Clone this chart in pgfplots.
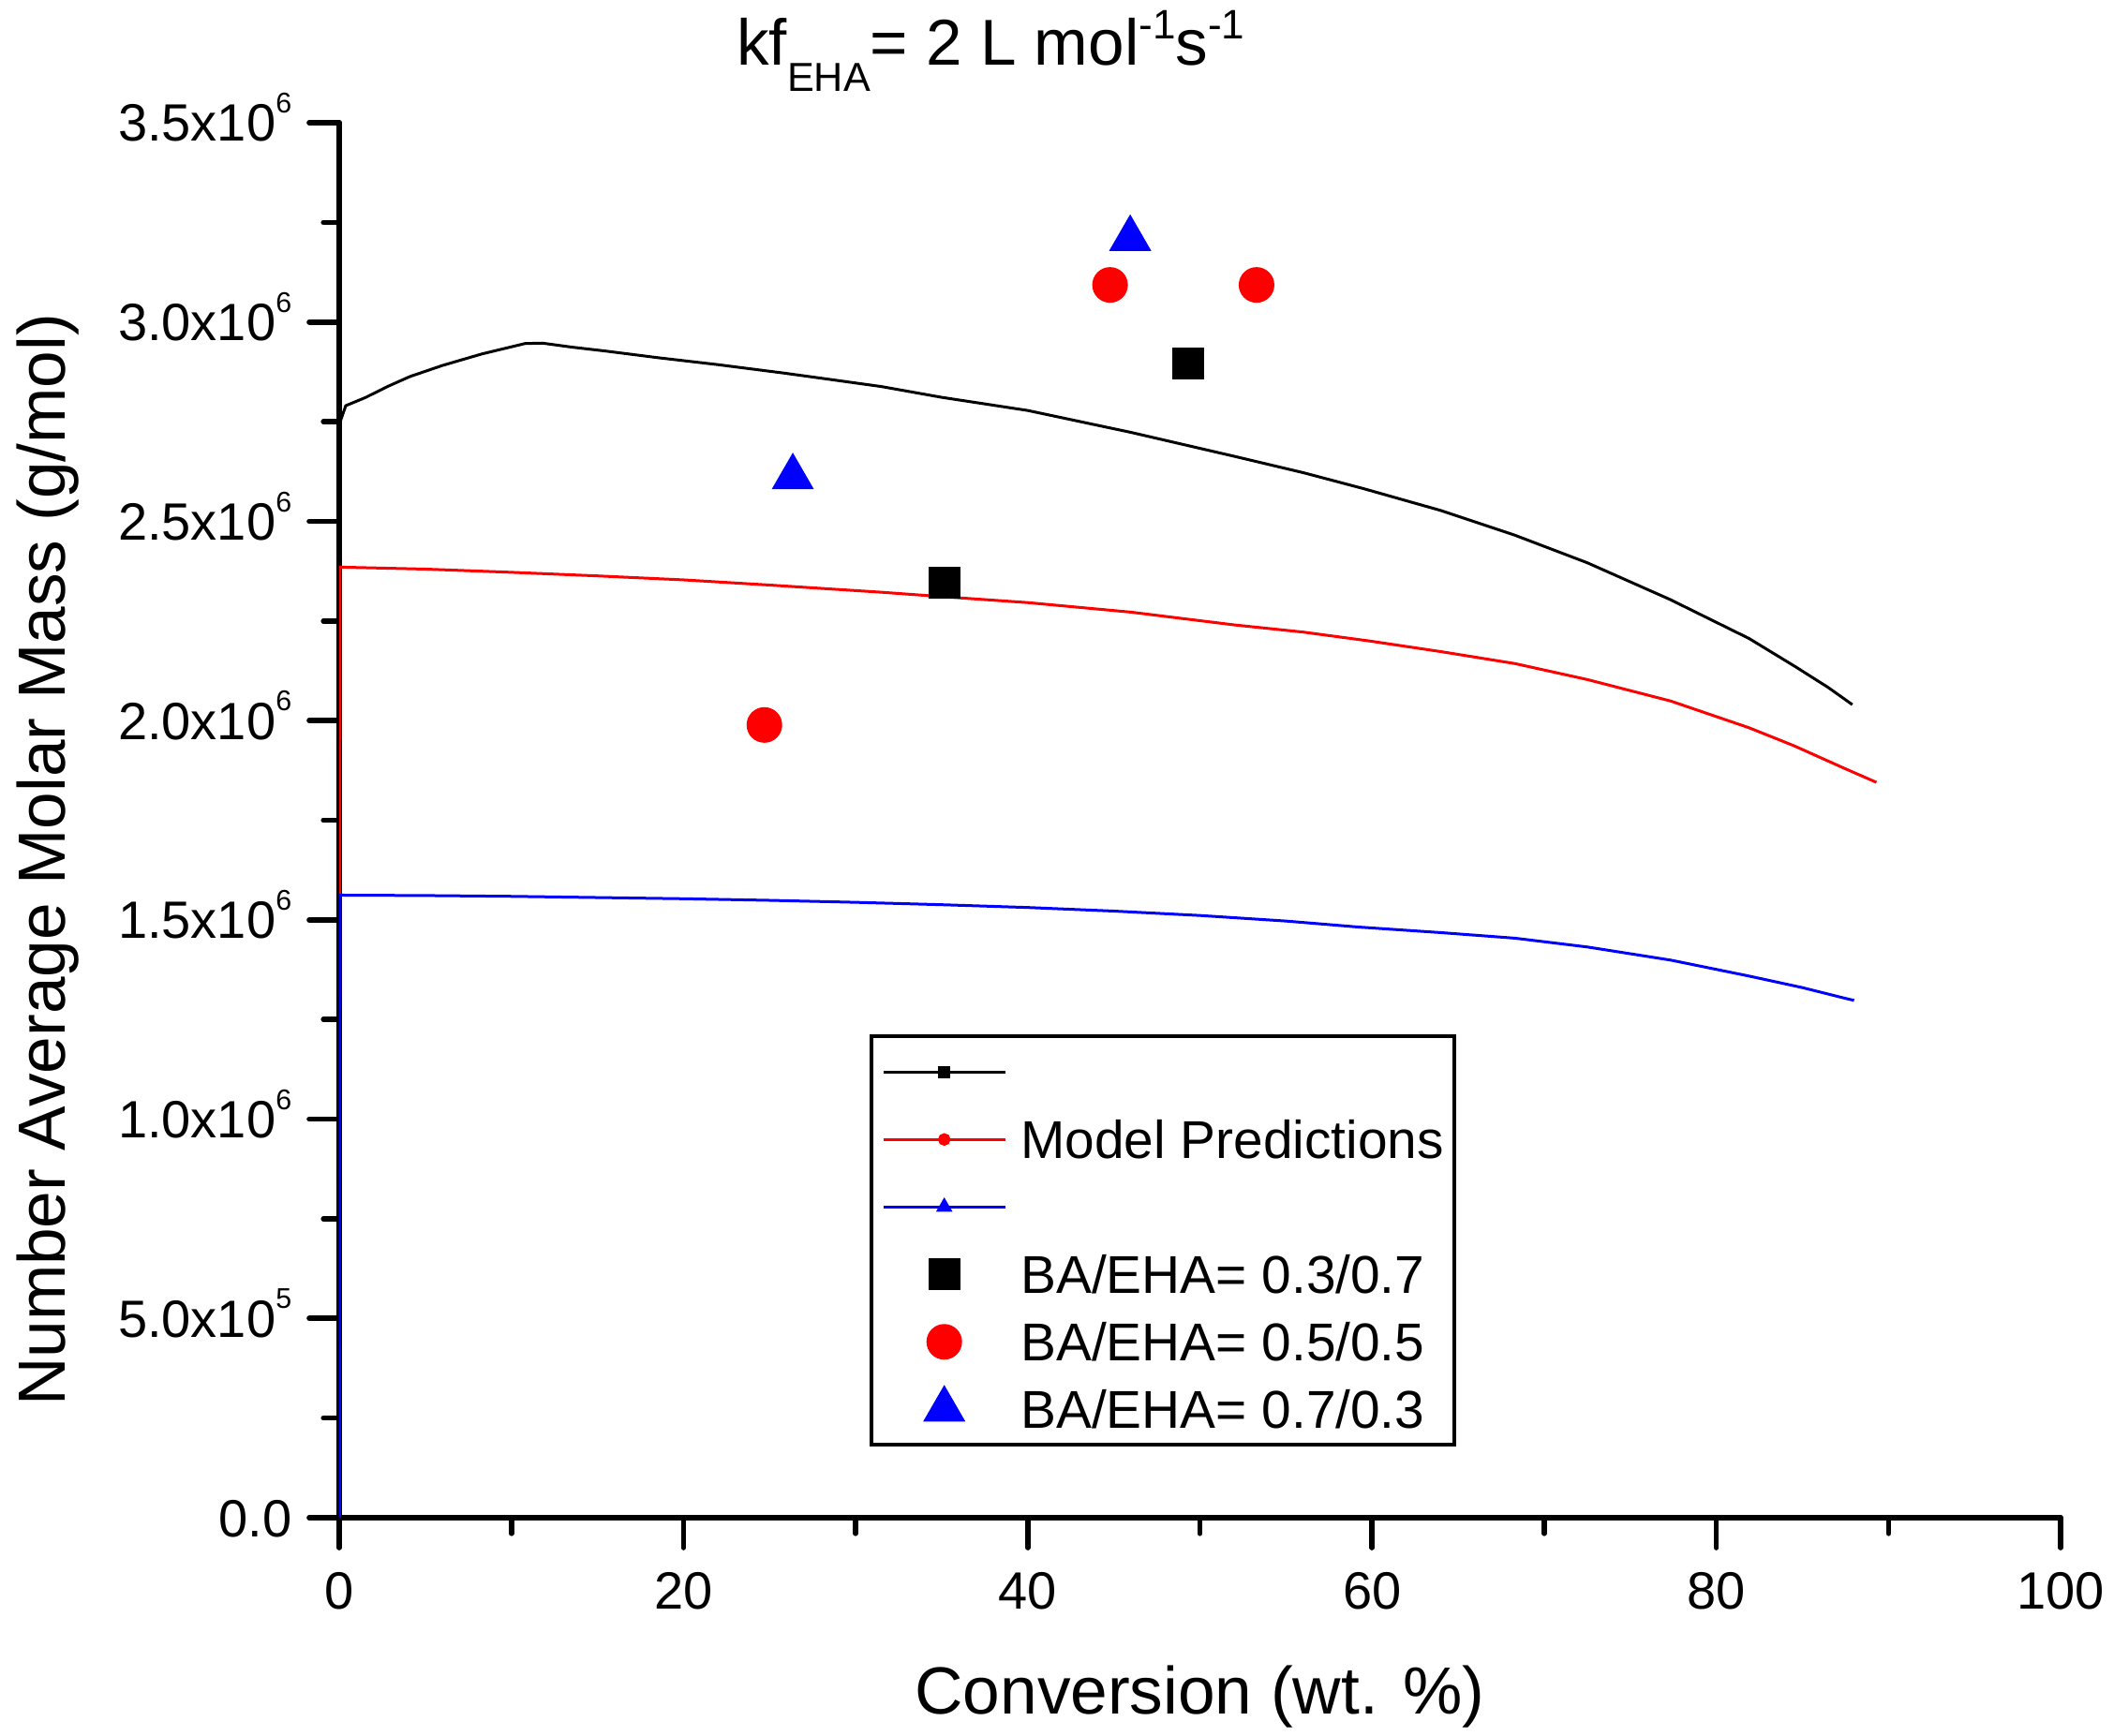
\documentclass[border=0pt]{standalone}
\usepackage{fontspec}
\setmainfont{Liberation Sans}
\usepackage{pgfplots}
\pgfplotsset{compat=1.18}

\newcommand\sci[2]{#1x10\raisebox{7.6pt}{\fontsize{7.6}{8}\selectfont #2}}
\newcommand\tsub[1]{\raisebox{-7pt}{\fontsize{10.8}{11}\selectfont #1}}
\newcommand\tsup[1]{\raisebox{7pt}{\fontsize{11}{11}\selectfont #1}}

\pgfplotsset{
  leglines/.style={legend image code/.code={
      \draw[##1,mark=none] (0pt,0pt) -- (32.5pt,0pt);
      \draw[##1] plot coordinates {(16.25pt,0pt)};}},
  legmark/.style={legend image code/.code={
      \draw[##1] plot coordinates {(16.25pt,0pt)};}},
}

\begin{document}
\begin{tikzpicture}
\useasboundingbox (-90.5pt,-58pt) rectangle (473.5pt,405pt);
\begin{axis}[
  at={(0pt,0pt)}, anchor=south west,
  scale only axis, width=459.25pt, height=372.25pt,
  xmin=0, xmax=100, ymin=0, ymax=3.5,
  axis x line=bottom, axis y line=left,
  axis line style={-, line width=1.4pt, line cap=round},
  xtick={0,20,40,60,80,100},
  ytick={0,0.5,1,1.5,2,2.5,3,3.5},
  yticklabels={0.0,\sci{5.0}{5},\sci{1.0}{6},\sci{1.5}{6},\sci{2.0}{6},\sci{2.5}{6},\sci{3.0}{6},\sci{3.5}{6}},
  minor x tick num=1, minor y tick num=1,
  tick align=outside,
  major tick length=8pt, minor tick length=4.2pt,
  every tick/.style={black, line width=1.4pt, line cap=round},
  /pgf/number format/assume math mode=true,
  ticklabel style={font=\fontsize{14}{16}\selectfont},
  xticklabel style={anchor=north, inner sep=0pt, text height=10pt, text depth=0pt, yshift=-6.25pt},
  yticklabel style={anchor=east, inner sep=0pt, text height=10pt, text depth=0pt, xshift=-4.5pt},
  xlabel={Conversion (wt. \%)},
  ylabel={Number Average Molar Mass (g/mol)},
  xlabel style={at={(axis description cs:0.5,-0.1410)}, anchor=base, inner sep=0pt, font=\fontsize{17.8}{20}\selectfont},
  ylabel style={at={(axis description cs:-0.159,0.4715)}, anchor=base, rotate=0, inner sep=0pt, font=\fontsize{17.8}{20}\selectfont},
  title={kf\tsub{EHA}= 2 L mol\tsup{-1}s\tsup{-1}},
  title style={at={(axis description cs:0.2305,1.0249)}, anchor=base west, inner sep=0pt, font=\fontsize{17.3}{20}\selectfont},
  legend style={at={(axis description cs:0.3081,0.3465)}, anchor=north west, draw=black, line width=1.1pt, fill=white,
    inner xsep=2.75pt, inner ysep=0.5pt, row sep=0pt, column sep=3.8pt,
    font=\fontsize{14.2}{16}\selectfont,
    nodes={inner sep=0pt, text height=14pt, text depth=4pt}},
  legend cell align=left,
]
\addplot[black, line width=0.75pt, forget plot] coordinates {
(0,0) (0.02,2.745) (0.38,2.79) (1.5,2.81) (2.8,2.838) (4.1,2.863) (6,2.891) (8.3,2.92)
(10.8,2.946) (11.8,2.947) (13.5,2.937) (15.5,2.927) (18.6,2.91) (22,2.893) (25.8,2.872)
(28.5,2.856) (31.5,2.838) (35,2.811) (40,2.778) (46,2.723) (52,2.663) (56,2.622) (59.5,2.582)
(64,2.527) (68.3,2.465) (72.5,2.396) (77.3,2.304) (81.9,2.206) (84.6,2.135) (86.5,2.083) (87.9,2.04)};
\addplot[red, line width=0.75pt, forget plot] coordinates {
(0,0) (0.05,2.385) (5,2.38) (10,2.372) (15,2.363) (20,2.353) (25,2.34) (31.5,2.322) (35,2.311)
(40,2.296) (46,2.272) (52,2.24) (56,2.222) (59.8,2.2) (64,2.173) (68.3,2.143) (72.5,2.103)
(77.35,2.049) (81.9,1.982) (84.5,1.937) (87.5,1.879) (89.3,1.845)};
\addplot[blue, line width=0.75pt, forget plot] coordinates {
(0,0) (0.05,1.562) (5,1.561) (10,1.559) (15,1.556) (20,1.553) (25,1.549) (30,1.544) (35,1.538)
(40,1.531) (45,1.522) (50,1.511) (55,1.497) (59.2,1.482) (64,1.468) (68.3,1.454) (72.5,1.432)
(77.35,1.399) (81.9,1.359) (85,1.33) (87.5,1.303) (88,1.298)};
\addlegendimage{black, line width=0.75pt, mark=square*, mark size=1.2pt, leglines}
\addlegendentry{\mbox{}}
\addlegendimage{red, line width=0.75pt, mark=*, mark size=1.3pt, leglines}
\addlegendentry{Model Predictions}
\addlegendimage{blue, line width=0.75pt, mark=triangle*, mark size=1.8pt, leglines}
\addlegendentry{\mbox{}}
\addplot[only marks, mark=square*, mark size=4.05pt, black, line width=0.4pt, legmark] coordinates {(35.17,2.345) (49.31,2.896)};
\addlegendentry{BA/EHA= 0.3/0.7}
\addplot[only marks, mark=*, mark size=4.55pt, red, line width=0.4pt, legmark] coordinates {(24.7,1.989) (44.78,3.093) (53.29,3.093)};
\addlegendentry{BA/EHA= 0.5/0.5}
\addplot[only marks, mark=triangle*, mark size=6.1pt, blue, line width=0.4pt, legmark] coordinates {(26.35,2.611) (45.95,3.209)};
\addlegendentry{BA/EHA= 0.7/0.3}
\end{axis}
\end{tikzpicture}
\end{document}
